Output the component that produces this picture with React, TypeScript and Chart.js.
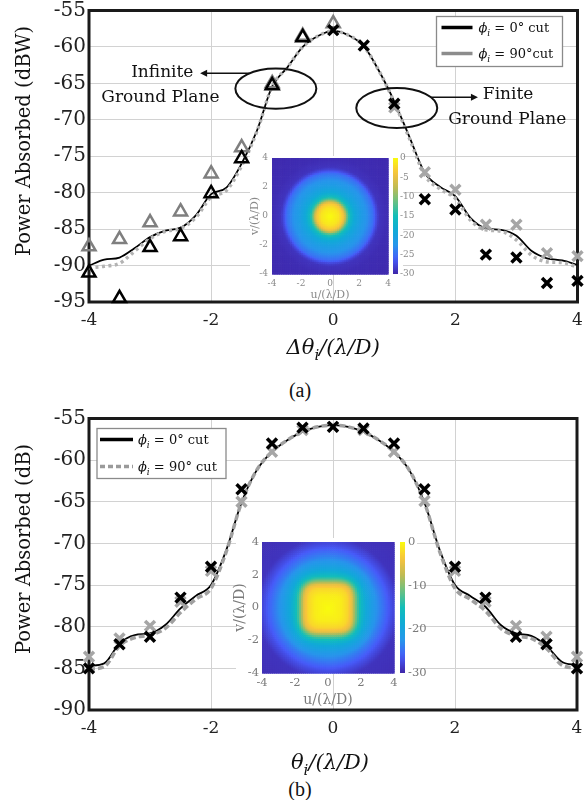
import React, { useEffect, useRef } from "react";
import { Chart, registerables } from "chart.js";

Chart.register(...registerables);

const SERIF = "'DejaVu Serif', serif";

// ---------- shared axes ----------
const curveX = [-4, -3.75, -3.5, -3.25, -3, -2.75, -2.5, -2.25, -2, -1.75, -1.5, -1.25, -1, -0.75, -0.5, -0.25, 0, 0.25, 0.5, 0.75, 1, 1.25, 1.5, 1.75, 2, 2.25, 2.5, 2.75, 3, 3.25, 3.5, 3.75, 4];
const xTicks = [-4, -2, 0, 2, 4];
const yTicksA = [-95, -90, -85, -80, -75, -70, -65, -60, -55];
const yTicksB = [-90, -85, -80, -75, -70, -65, -60, -55];

// ---------- (a) data ----------
const curveA_phi0 = [-90.0, -89.2, -88.9, -87.6, -86.1, -85.2, -84.8, -83.1, -80.2, -79.3, -76.0, -71.5, -65.4, -62.8, -60.0, -58.5, -57.8, -58.4, -59.9, -63.3, -67.5, -72.4, -77.3, -79.2, -80.5, -83.5, -84.9, -85.1, -85.9, -88.0, -89.0, -89.3, -89.9];
const curveA_phi90 = [-90.3, -90.1, -89.7, -88.0, -86.3, -85.3, -84.9, -83.4, -80.6, -79.7, -76.3, -71.6, -65.4, -62.8, -60.0, -58.5, -57.8, -58.4, -59.9, -63.3, -67.6, -72.6, -77.6, -79.5, -80.8, -83.8, -85.1, -85.3, -86.5, -88.6, -89.5, -89.6, -90.2];

const triA0_x = [-4, -3.5, -3, -2.5, -2, -1.5, -1, -0.5];
const triA0_y = [-91.0, -94.5, -87.5, -86.0, -80.1, -75.3, -65.3, -58.7];
const triA90_x = [-4, -3.5, -3, -2.5, -2, -1.5, -1, -0.5, 0];
const triA90_y = [-87.4, -86.4, -84.1, -82.6, -77.4, -73.8, -65.0, -58.5, -56.8];
const crossA0_x = [0, 0.5, 1, 1.5, 2, 2.5, 3, 3.5, 4];
const crossA0_y = [-57.7, -59.8, -67.8, -80.9, -82.3, -88.5, -88.9, -92.4, -92.1];
const crossA90_x = [1, 1.5, 2, 2.5, 3, 3.5, 4];
const crossA90_y = [-68.3, -77.2, -79.6, -84.4, -84.4, -88.3, -88.7];

// annotations of (a), in data units
const ellipsesA = [
  { x: -0.94, y: -65.72, rx: 0.663, ry: 2.76 },
  { x: 1.04, y: -68.38, rx: 0.663, ry: 2.76 },
];
const arrowsA = [
  { x0: -1.37, y0: -63.6, x1: -2.18, y1: -63.6 },
  { x0: 1.59, y0: -66.9, x1: 2.37, y1: -66.9 },
];
const labelsA = [
  { t: "Infinite", x: -2.29, y: -63.46, align: "right" },
  { t: "Ground Plane", x: -2.83, y: -67.0, align: "center" },
  { t: "Finite", x: 2.45, y: -66.47, align: "left" },
  { t: "Ground Plane", x: 2.85, y: -70.0, align: "center" },
];

// ---------- (b) data ----------
const curveB_phi0 = [-84.7, -84.4, -82.0, -81.0, -80.8, -79.8, -77.8, -76.3, -75.0, -70.8, -65.1, -61.2, -59.0, -57.6, -56.6, -56.0, -55.8, -56.0, -56.6, -57.6, -59.0, -61.2, -65.1, -70.8, -75.0, -76.3, -77.6, -79.8, -80.8, -81.1, -82.3, -84.2, -84.6];
const curveB_phi90 = [-85.1, -84.8, -82.3, -81.3, -81.0, -80.2, -78.3, -76.7, -75.4, -71.0, -65.1, -61.2, -59.0, -57.6, -56.6, -56.0, -55.8, -56.0, -56.6, -57.6, -59.0, -61.2, -65.1, -71.0, -75.4, -76.7, -78.1, -80.2, -81.1, -81.4, -82.6, -84.6, -85.0];
const crossB_x = [-4, -3.5, -3, -2.5, -2, -1.5, -1, -0.5, 0, 0.5, 1, 1.5, 2, 2.5, 3, 3.5, 4];
const crossB0_y = [-85.0, -82.1, -81.2, -76.5, -72.8, -63.5, -58.0, -56.1, -56.0, -56.2, -58.0, -63.5, -72.8, -76.5, -81.2, -82.1, -85.0];
const crossB90_y = [-83.6, -81.4, -79.9, -77.0, -73.3, -65.0, -59.0, -56.4, -56.0, -56.4, -59.0, -64.9, -73.3, -77.0, -79.9, -81.2, -83.6];

// ---------- insets ----------
const insetTicks = [-4, -2, 0, 2, 4];
const cbTicksA = [-30, -25, -20, -15, -10, -5, 0];
const cbTicksB = [-30, -20, -10, 0];
// radial profiles (dB vs radius in λ/D)
const profA_r = [0, 0.6, 0.9, 1.05, 1.2, 1.4, 1.7, 2.1, 2.6, 3.0, 3.2, 3.4, 4.0, 8];
const profA_v = [0, -1.5, -3.5, -7, -12, -16, -19, -21, -23, -25, -27.5, -29, -29.5, -30];
const profB_r = [0, 0.8, 1.2, 1.45, 1.6, 1.8, 2.0, 2.3, 2.8, 3.3, 3.8, 4.3, 8];
const profB_v = [0, -1, -2.5, -5, -9, -13, -16, -19, -22, -24.5, -27, -29, -30];

const PARULA: [number, number[]][] = [
  [0, [62, 38, 168]],
  [0.125, [71, 91, 249]],
  [0.25, [39, 150, 235]],
  [0.375, [16, 170, 215]],
  [0.5, [18, 190, 185]],
  [0.625, [105, 193, 130]],
  [0.75, [193, 187, 83]],
  [0.875, [249, 195, 60]],
  [1, [249, 251, 14]],
];

function parula(t: number) {
  t = Math.max(0, Math.min(1, t));
  for (let i = 0; i < PARULA.length - 1; i++) {
    const [t0, c0] = PARULA[i];
    const [t1, c1] = PARULA[i + 1];
    if (t <= t1) {
      const f = (t - t0) / (t1 - t0);
      const c = c0.map((v, k) => Math.round(v + (c1[k] - v) * f));
      return `rgb(${c[0]},${c[1]},${c[2]})`;
    }
  }
  return "rgb(249,251,14)";
}

function lookup(rs: number[], vs: number[], r: number) {
  for (let i = 0; i < rs.length - 1; i++) {
    if (r <= rs[i + 1]) {
      const f = (r - rs[i]) / (rs[i + 1] - rs[i]);
      return vs[i] + (vs[i + 1] - vs[i]) * f;
    }
  }
  return vs[vs.length - 1];
}

function buildCells(rs: number[], vs: number[], sq: number, n: number) {
  const cells: any[] = [];
  const step = 8 / n;
  for (let i = 0; i < n; i++) {
    for (let j = 0; j < n; j++) {
      const u = -4 + (i + 0.5) * step;
      const v = -4 + (j + 0.5) * step;
      const rc = Math.hypot(u, v);
      const rp = Math.pow(Math.pow(Math.abs(u), sq) + Math.pow(Math.abs(v), sq), 1 / sq);
      const w = Math.min(1, Math.max(0, (3.2 - rc) / 1.4));
      const r = rp * w + rc * (1 - w);
      cells.push({ u0: u - step / 2, u1: u + step / 2, v0: v - step / 2, v1: v + step / 2, val: lookup(rs, vs, r) });
    }
  }
  return cells;
}

// ---------- helpers ----------
const pts = (xs: number[], ys: number[]) => xs.map((x, i) => ({ x, y: ys[i] }));

type Seg = { t: string; it?: boolean; sub?: boolean };
function mathText(ctx: any, segs: Seg[], x: number, cy: number, size: number, align: string, color: string) {
  const fontOf = (s: Seg) => `${s.it ? "italic " : ""}${s.sub ? Math.round(size * 0.7) : size}px ${SERIF}`;
  let w = 0;
  for (const s of segs) {
    ctx.font = fontOf(s);
    w += ctx.measureText(s.t).width;
  }
  let cx = align === "left" ? x : align === "center" ? x - w / 2 : x - w;
  const base = cy + size * 0.35;
  ctx.textAlign = "left";
  ctx.textBaseline = "alphabetic";
  ctx.fillStyle = color;
  for (const s of segs) {
    ctx.font = fontOf(s);
    ctx.fillText(s.t, cx, base + (s.sub ? size * 0.28 : 0));
    cx += ctx.measureText(s.t).width;
  }
}

function arrow(ctx: any, x0: number, y0: number, x1: number, y1: number) {
  const a = Math.atan2(y1 - y0, x1 - x0);
  const L = 7, H = 3.5;
  ctx.beginPath();
  ctx.moveTo(x0, y0);
  ctx.lineTo(x1 - Math.cos(a) * L * 0.6, y1 - Math.sin(a) * L * 0.6);
  ctx.stroke();
  ctx.beginPath();
  ctx.moveTo(x1, y1);
  ctx.lineTo(x1 - Math.cos(a) * L - Math.sin(a) * H, y1 - Math.sin(a) * L + Math.cos(a) * H);
  ctx.lineTo(x1 - Math.cos(a) * L + Math.sin(a) * H, y1 - Math.sin(a) * L - Math.cos(a) * H);
  ctx.closePath();
  ctx.fill();
}

function drawFrame(chart: any) {
  const { ctx, chartArea: ca } = chart;
  ctx.save();
  ctx.strokeStyle = "#1a1a1a";
  ctx.lineWidth = 3;
  ctx.strokeRect(ca.left, ca.top, ca.right - ca.left, ca.bottom - ca.top);
  ctx.restore();
}

function drawYTitle(ctx: any, text: string, x: number, y: number) {
  ctx.save();
  ctx.translate(x, y);
  ctx.rotate(-Math.PI / 2);
  ctx.font = `19.5px ${SERIF}`;
  ctx.fillStyle = "#111";
  ctx.textAlign = "center";
  ctx.textBaseline = "middle";
  ctx.fillText(text, 0, 0);
  ctx.restore();
}

function legendBox(ctx: any, x: number, y: number, w: number, h: number, items: any[]) {
  ctx.save();
  ctx.fillStyle = "#fff";
  ctx.fillRect(x, y, w, h);
  ctx.strokeStyle = "#8a8a8a";
  ctx.lineWidth = 1.3;
  ctx.strokeRect(x, y, w, h);
  for (const it of items) {
    ctx.strokeStyle = it.color;
    ctx.lineWidth = it.width;
    ctx.setLineDash(it.dash || []);
    ctx.beginPath();
    ctx.moveTo(it.lx0, it.ly);
    ctx.lineTo(it.lx1, it.ly);
    ctx.stroke();
    ctx.setLineDash([]);
    mathText(ctx, it.segs, it.tx, it.ly, 13, "left", "#111");
  }
  ctx.restore();
}

const decorA = {
  id: "decorA",
  beforeDatasetsDraw(chart: any) {
    drawFrame(chart);
  },
  afterDatasetsDraw(chart: any) {
    const { ctx, chartArea: ca } = chart;
    const xs = chart.scales.x, ys = chart.scales.y;
    ctx.save();
    ctx.strokeStyle = "#111";
    ctx.fillStyle = "#111";
    ctx.lineWidth = 2;
    for (const e of ellipsesA) {
      const cx = xs.getPixelForValue(e.x), cy = ys.getPixelForValue(e.y);
      const rx = Math.abs(xs.getPixelForValue(e.x + e.rx) - cx);
      const ry = Math.abs(ys.getPixelForValue(e.y + e.ry) - cy);
      ctx.beginPath();
      ctx.ellipse(cx, cy, rx, ry, 0, 0, Math.PI * 2);
      ctx.stroke();
    }
    ctx.lineWidth = 1.5;
    for (const a of arrowsA) {
      arrow(ctx, xs.getPixelForValue(a.x0), ys.getPixelForValue(a.y0), xs.getPixelForValue(a.x1), ys.getPixelForValue(a.y1));
    }
    ctx.font = `17px ${SERIF}`;
    ctx.textBaseline = "middle";
    for (const l of labelsA) {
      ctx.textAlign = l.align;
      ctx.fillText(l.t, xs.getPixelForValue(l.x), ys.getPixelForValue(l.y));
    }
    ctx.restore();
    const lx = ca.right - 141, ly = ca.top + 6;
    legendBox(ctx, lx, ly, 126, 50, [
      { color: "#000", width: 3.5, lx0: lx + 5, lx1: lx + 36, ly: ly + 11, tx: lx + 42, segs: [{ t: "ϕ", it: true }, { t: "i", it: true, sub: true }, { t: " = 0° cut" }] },
      { color: "#8c8c8c", width: 3.5, lx0: lx + 5, lx1: lx + 36, ly: ly + 37, tx: lx + 42, segs: [{ t: "ϕ", it: true }, { t: "i", it: true, sub: true }, { t: " = 90°cut" }] },
    ]);
    drawYTitle(ctx, "Power Absorbed (dBW)", 25, 141);
    mathText(ctx, [{ t: "Δθ", it: true }, { t: "i", it: true, sub: true }, { t: "/(λ/D)", it: true }], (ca.left + ca.right) / 2, ca.bottom + 45, 21, "center", "#111");
  },
};

const decorB = {
  id: "decorB",
  beforeDatasetsDraw(chart: any) {
    drawFrame(chart);
  },
  afterDatasetsDraw(chart: any) {
    const { ctx, chartArea: ca } = chart;
    const lx = ca.left + 8, ly = ca.top + 10;
    legendBox(ctx, lx, ly, 129, 50, [
      { color: "#000", width: 3.5, lx0: lx + 3, lx1: lx + 36, ly: ly + 11, tx: lx + 41, segs: [{ t: "ϕ", it: true }, { t: "i", it: true, sub: true }, { t: " = 0° cut" }] },
      { color: "#9a9a9a", width: 3.5, dash: [5, 3], lx0: lx + 3, lx1: lx + 36, ly: ly + 38, tx: lx + 41, segs: [{ t: "ϕ", it: true }, { t: "i", it: true, sub: true }, { t: " = 90° cut" }] },
    ]);
    drawYTitle(ctx, "Power Absorbed (dB)", 25, 141);
    mathText(ctx, [{ t: "θ", it: true }, { t: "i", it: true, sub: true }, { t: "/(λ/D)", it: true }], (ca.left + ca.right) / 2 - 3, ca.bottom + 52, 21, "center", "#111");
  },
};

function mainChart(canvas: HTMLCanvasElement, datasets: any[], yTicks: number[], padTop: number, padRight: number, decor: any) {
  return new Chart(canvas, {
    type: "line",
    data: { datasets },
    options: {
      animation: false,
      responsive: false,
      devicePixelRatio: 1,
      events: [],
      layout: { padding: { top: padTop, right: padRight, bottom: 0, left: 0 } },
      plugins: { legend: { display: false }, tooltip: { enabled: false } },
      scales: {
        x: {
          type: "linear",
          min: -4,
          max: 4,
          afterBuildTicks: (s: any) => {
            s.ticks = xTicks.map((v) => ({ value: v }));
          },
          afterFit: (s: any) => {
            s.height = 68;
            s.paddingLeft = 0;
            s.paddingRight = 0;
          },
          grid: { color: "#d2d2d2", lineWidth: 1, drawTicks: false },
          border: { display: false },
          ticks: { autoSkip: false, maxRotation: 0, padding: 8, color: "#222", font: { family: SERIF, size: 17 }, callback: (v: any) => String(v) },
        },
        y: {
          type: "linear",
          min: yTicks[0],
          max: yTicks[yTicks.length - 1],
          afterBuildTicks: (s: any) => {
            s.ticks = yTicks.map((v) => ({ value: v }));
          },
          afterFit: (s: any) => {
            s.width = 89;
            s.paddingTop = 0;
            s.paddingBottom = 0;
          },
          grid: { color: "#d2d2d2", lineWidth: 1, drawTicks: false },
          border: { display: false },
          ticks: { autoSkip: false, padding: 3, color: "#222", font: { family: SERIF, size: 20 }, callback: (v: any) => String(v) },
        },
      },
    } as any,
    plugins: [decor],
  });
}

function heatPlugin(cells: any[], cfg: any) {
  return {
    id: "heat",
    beforeDraw(chart: any) {
      const ctx = chart.ctx;
      ctx.save();
      ctx.fillStyle = "#fff";
      ctx.fillRect(cfg.white[0], cfg.white[1], cfg.white[2], cfg.white[3]);
      ctx.restore();
    },
    beforeDatasetsDraw(chart: any) {
      const { ctx, chartArea: ca } = chart;
      const xs = chart.scales.x, ys = chart.scales.y;
      ctx.save();
      for (const c of cells) {
        const x0 = xs.getPixelForValue(c.u0), x1 = xs.getPixelForValue(c.u1);
        const y0 = ys.getPixelForValue(c.v1), y1 = ys.getPixelForValue(c.v0);
        ctx.fillStyle = parula((c.val + 30) / 30);
        ctx.fillRect(x0, y0, x1 - x0 + 0.7, y1 - y0 + 0.7);
      }
      const cb = chart.scales.cb;
      const g = ctx.createLinearGradient(0, cb.getPixelForValue(0), 0, cb.getPixelForValue(-30));
      for (let k = 0; k <= 20; k++) g.addColorStop(k / 20, parula(1 - k / 20));
      ctx.fillStyle = g;
      ctx.fillRect(ca.right + cfg.cbGap, ca.top, cfg.cbWidth, ca.bottom - ca.top);
      // axis titles
      ctx.fillStyle = cfg.color;
      ctx.font = `${cfg.titleSize}px ${SERIF}`;
      ctx.textAlign = "center";
      ctx.textBaseline = "middle";
      ctx.fillText("u/(λ/D)", (ca.left + ca.right) / 2, cfg.uY);
      ctx.translate(cfg.vX, (ca.top + ca.bottom) / 2);
      ctx.rotate(-Math.PI / 2);
      ctx.fillText("v/(λ/D)", 0, 0);
      ctx.restore();
    },
  };
}

function insetChart(canvas: HTMLCanvasElement, cells: any[], cbTicks: number[], cfg: any) {
  const tickFont = { family: SERIF, size: cfg.tickSize };
  return new Chart(canvas, {
    type: "scatter",
    data: { datasets: [] },
    options: {
      animation: false,
      responsive: false,
      devicePixelRatio: 1,
      events: [],
      layout: { padding: { top: cfg.padTop, right: 0, bottom: 0, left: 0 } },
      plugins: { legend: { display: false }, tooltip: { enabled: false } },
      scales: {
        x: {
          type: "linear",
          min: -4,
          max: 4,
          afterBuildTicks: (s: any) => {
            s.ticks = insetTicks.map((v) => ({ value: v }));
          },
          afterFit: (s: any) => {
            s.height = cfg.xH;
            s.paddingLeft = 0;
            s.paddingRight = 0;
          },
          grid: { display: false, drawTicks: false },
          border: { display: false },
          ticks: { autoSkip: false, maxRotation: 0, padding: cfg.tickPad, color: cfg.color, font: tickFont, callback: (v: any) => String(v) },
        },
        y: {
          type: "linear",
          position: "left",
          min: -4,
          max: 4,
          afterBuildTicks: (s: any) => {
            s.ticks = insetTicks.map((v) => ({ value: v }));
          },
          afterFit: (s: any) => {
            s.width = cfg.yW;
            s.paddingTop = 0;
            s.paddingBottom = 0;
          },
          grid: { display: false, drawTicks: false },
          border: { display: false },
          ticks: { autoSkip: false, padding: cfg.tickPad, color: cfg.color, font: tickFont, callback: (v: any) => String(v) },
        },
        cb: {
          type: "linear",
          position: "right",
          min: -30,
          max: 0,
          afterBuildTicks: (s: any) => {
            s.ticks = cbTicks.map((v) => ({ value: v }));
          },
          afterFit: (s: any) => {
            s.width = cfg.cbW;
            s.paddingTop = 0;
            s.paddingBottom = 0;
          },
          grid: { display: false, drawTicks: false },
          border: { display: false },
          ticks: { autoSkip: false, padding: cfg.cbPad, color: cfg.color, font: tickFont, callback: (v: any) => String(v) },
        },
      },
    } as any,
    plugins: [heatPlugin(cells, cfg)],
  });
}

export default function App() {
  const refA = useRef<HTMLCanvasElement>(null);
  const refB = useRef<HTMLCanvasElement>(null);
  const refIA = useRef<HTMLCanvasElement>(null);
  const refIB = useRef<HTMLCanvasElement>(null);

  useEffect(() => {
    const markers = (data: any, style: string, color: string, r: number, bw: number) => ({
      data,
      showLine: false,
      pointStyle: style,
      pointRadius: r,
      pointBorderWidth: bw,
      pointBorderColor: color,
      pointBackgroundColor: "rgba(0,0,0,0)",
      borderColor: color,
      clip: false,
    });
    const dsA = [
      markers(pts(crossA0_x, crossA0_y), "crossRot", "#000", 7, 3.5),
      markers(pts(crossA90_x, crossA90_y), "crossRot", "#a6a6a6", 7, 3.5),
      markers(pts(triA0_x, triA0_y), "triangle", "#000", 7.5, 2.5),
      markers(pts(triA90_x, triA90_y), "triangle", "#7f7f7f", 7.5, 2.5),
      { data: pts(curveX, curveA_phi90), borderColor: "#b3b3b3", borderWidth: 3.5, borderDash: [3, 3.5], pointRadius: 0, cubicInterpolationMode: "monotone", fill: false },
      { data: pts(curveX, curveA_phi0), borderColor: "#000", borderWidth: 1.8, pointRadius: 0, cubicInterpolationMode: "monotone", fill: false },
    ];
    const dsB = [
      markers(pts(crossB_x, crossB0_y), "crossRot", "#000", 7, 3.5),
      markers(pts(crossB_x, crossB90_y), "crossRot", "#a6a6a6", 7, 3.5),
      { data: pts(curveX, curveB_phi90), borderColor: "#a0a0a0", borderWidth: 3.5, borderDash: [6, 3], pointRadius: 0, cubicInterpolationMode: "monotone", fill: false },
      { data: pts(curveX, curveB_phi0), borderColor: "#000", borderWidth: 1.8, pointRadius: 0, cubicInterpolationMode: "monotone", fill: false },
    ];
    const charts: Chart[] = [];
    charts.push(mainChart(refA.current!, dsA, yTicksA, 9, 10, decorA));
    charts.push(mainChart(refB.current!, dsB, yTicksB, 10, 11, decorB));
    charts.push(
      insetChart(refIA.current!, buildCells(profA_r, profA_v, 2, 64), cbTicksA, {
        padTop: 8, yW: 32, xH: 26, cbW: 32, tickSize: 9, tickPad: 4, cbPad: 12, cbGap: 5, cbWidth: 5,
        titleSize: 11, vX: 15, uY: 145, color: "#8a8a8a", white: [10, 6, 153, 118],
      })
    );
    charts.push(
      insetChart(refIB.current!, buildCells(profB_r, profB_v, 4, 64), cbTicksB, {
        padTop: 10, yW: 37, xH: 39, cbW: 41, tickSize: 11.5, tickPad: 3, cbPad: 14, cbGap: 6, cbWidth: 5,
        titleSize: 14, vX: 15, uY: 168, color: "#7a7a7a", white: [11, 6, 181, 135],
      })
    );
    return () => charts.forEach((c) => c.destroy());
  }, []);

  const cap: React.CSSProperties = {
    position: "absolute",
    left: 0,
    width: 600,
    textAlign: "center",
    fontFamily: "'Liberation Serif', serif",
    fontSize: "20px",
    lineHeight: "22px",
    color: "#111",
  };

  return (
    <div style={{ position: "absolute", left: 0, top: 0, width: 588, height: 800, background: "#fff", overflow: "hidden" }}>
      <canvas ref={refA} width={588} height={370} style={{ position: "absolute", left: 0, top: 0 }} />
      <canvas ref={refIA} width={180} height={150} style={{ position: "absolute", left: 240, top: 150 }} />
      <div style={{ ...cap, top: 379 }}>(a)</div>
      <canvas ref={refB} width={588} height={370} style={{ position: "absolute", left: 0, top: 408 }} />
      <canvas ref={refIB} width={210} height={180} style={{ position: "absolute", left: 225, top: 532 }} />
      <div style={{ ...cap, top: 778 }}>(b)</div>
    </div>
  );
}
